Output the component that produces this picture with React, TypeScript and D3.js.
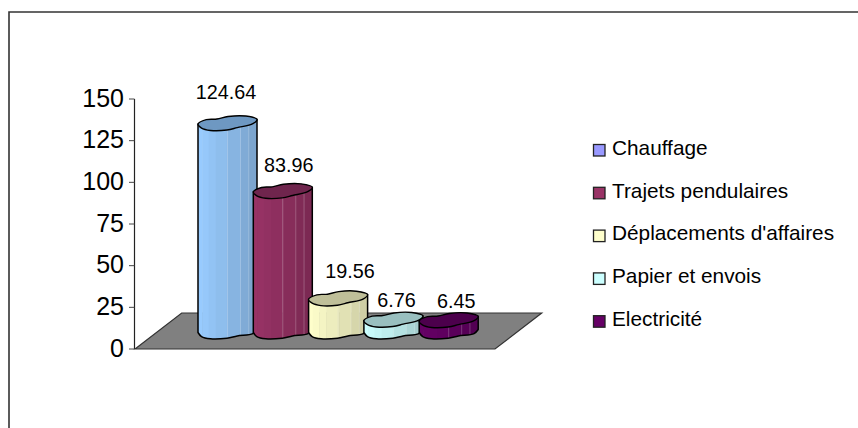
import React from "react";
import * as d3 from "d3";

const categories = ["Chauffage", "Trajets pendulaires", "Déplacements d'affaires", "Papier et envois", "Electricité"];
const values = [124.64, 83.96, 19.56, 6.76, 6.45];
const sideColors = ["#99CCFF", "#993366", "#FFFFCC", "#CCFFFF", "#660066"];
const topColors = ["#6E98C2", "#6F254D", "#BFBF99", "#99BFBF", "#4C004C"];
const legendColors = ["#9999FF", "#993366", "#FFFFCC", "#CCFFFF", "#660066"];
const ticks = [0, 25, 50, 75, 100, 125, 150];
const labelNudgeX = [-1.5, 6, 12, 3, 7.5];
const labelNudgeY = [-25, -20, -21, -13, -13];

const W = 858, H = 428;
const y = d3.scaleLinear().domain([0, 150]).range([349, 99]);
const x = d3.scalePoint<string>().domain(categories).range([227.5, 448.7]);
const depth = 18, halfW = 29.5;
const floor: [number, number][] = [[135, 349], [181.7, 313], [541.7, 313], [495, 349]];

// outline of the low-poly cylinder cap: [fraction of half width, px offset]
const cap: [number, number][] = [[-1, 0.8], [-0.72, -3.6], [-0.36, -4.2], [0.02, -6.8], [0.62, -7.2], [1, -3.9], [0.86, 0.4], [0.33, 4.4], [-0.02, 6.8], [-0.58, 7.2], [-0.88, 4.8]];
const lower: [number, number][] = [[1, -1.5], [0.86, 2.6], [0.33, 5], [-0.02, 7.2], [-0.58, 7.8], [-0.88, 5.6], [-1, 1.5]];
const stripes = [0, .07, .18, .3, .49, .52, .72, .86, 1];

const closed = d3.line().curve(d3.curveCatmullRomClosed.alpha(0.5));
const open = d3.line().curve(d3.curveCatmullRom.alpha(0.5));
const font = "'Liberation Sans', Arial, sans-serif";

export default function App() {
  return (
    <svg width={W} height={H} viewBox={`0 0 ${W} ${H}`} style={{ position: "absolute", left: 0, top: 0, background: "#fff" }} fontFamily={font}>
      <path d={`M9 ${H}V12H${W}`} fill="none" stroke="#333" strokeWidth={1.6} />
      <polygon points={floor.map(p => p.join(",")).join(" ")} fill="#808080" stroke="#333" strokeWidth={1.2} />
      <line x1={134.5} x2={134.5} y1={y(150)} y2={y(0)} stroke="#222" strokeWidth={1.2} />
      {ticks.map(t => (
        <g key={t}>
          <line x1={129} x2={134.5} y1={y(t)} y2={y(t)} stroke="#444" strokeWidth={1} />
          <text x={124} y={y(t) + 7.8} textAnchor="end" fontSize={25} fill="#000">{t}</text>
        </g>
      ))}
      {categories.map((c, i) => {
        const cx = x(c)!;
        const baseY = y(0) - depth;
        const topY = y(values[i]) - depth;
        const topPts = cap.map(([u, v]) => [cx + u * halfW, topY + v] as [number, number]);
        const lowPts = lower.map(([u, v]) => [cx + u * halfW, baseY + v] as [number, number]);
        const low = open(lowPts)!;
        const body = `M${cx + halfW},${topY - 3.9}L${cx + halfW},${baseY - 1.5}` + low.replace(/^M[^C]*/, "") + `L${cx - halfW},${topY + 0.8}Z`;
        const shade = d3.interpolateRgb(sideColors[i], d3.rgb(sideColors[i]).darker(0.95).formatHex());
        return (
          <g key={c}>
            <clipPath id={`b${i}`}><path d={body} /></clipPath>
            <g clipPath={`url(#b${i})`}>
              {stripes.slice(0, -1).map((s, k) => (
                <rect key={k} x={cx - halfW + s * 2 * halfW} width={(stripes[k + 1] - s) * 2 * halfW + 0.5} y={topY - 10} height={baseY - topY + 20} fill={shade(s * 0.75 + 0.02)} />
              ))}
              {[.5, .72, .86].map(s => (
                <line key={s} x1={cx - halfW + s * 2 * halfW} x2={cx - halfW + s * 2 * halfW} y1={topY} y2={baseY + 10} stroke="#fff" strokeOpacity={0.22} strokeWidth={1} />
              ))}
            </g>
            <path d={body} fill="none" stroke="#000" strokeWidth={1.5} strokeLinejoin="round" />
            <path d={closed(topPts)!} fill={topColors[i]} stroke="#000" strokeWidth={1.4} strokeLinejoin="round" />
            <text x={cx + labelNudgeX[i]} y={topY + labelNudgeY[i] + 0.6} textAnchor="middle" fontSize={19.8} fill="#000">{values[i].toFixed(2)}</text>
          </g>
        );
      })}
      {categories.map((c, i) => {
        const ly = 150 + i * 42.8;
        return (
          <g key={c}>
            <rect x={593.5} y={ly - 5.5} width={11.5} height={11.5} fill={legendColors[i]} stroke="#222" strokeWidth={1.3} />
            <text x={612} y={ly + 4.8} fontSize={20.8} fill="#000">{c}</text>
          </g>
        );
      })}
    </svg>
  );
}
